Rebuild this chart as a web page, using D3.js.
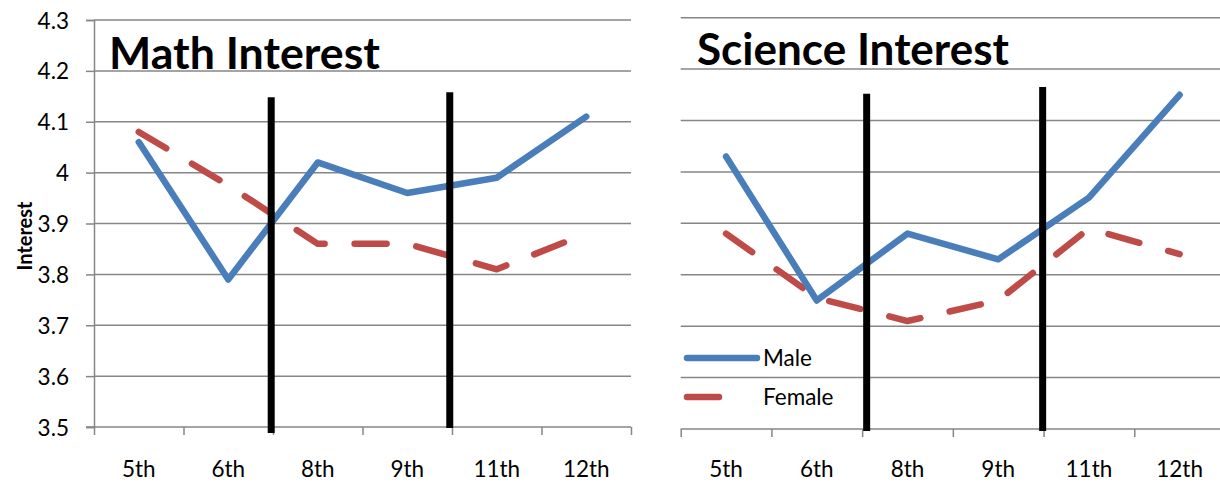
<!DOCTYPE html>
<html>
<head>
<meta charset="utf-8">
<script src="https://cdn.jsdelivr.net/npm/d3@7"></script>
<style>
body{margin:0;background:#fff}
svg{display:block}
text{font-family:Lato,"Open Sans",sans-serif}
</style>
</head>
<body>
<svg id="c" width="1220" height="483"></svg>
<script>
// ---- data ----
const categories = ["5th", "6th", "8th", "9th", "11th", "12th"];
const mathMale   = [4.06, 3.79, 4.02, 3.96, 3.99, 4.11];
const mathFemale = [4.08, 3.975, 3.86, 3.86, 3.81, 3.88];
const sciMale    = [4.03, 3.75, 3.88, 3.83, 3.95, 4.15];
const sciFemale  = [3.88, 3.755, 3.71, 3.75, 3.89, 3.84];
const yTicks      = [3.5, 3.6, 3.7, 3.8, 3.9, 4.0, 4.1, 4.2, 4.3];
const yTickLabels = ["3.5", "3.6", "3.7", "3.8", "3.9", "4", "4.1", "4.2", "4.3"];
// divider lines: position in category units (0..6), value range
const mathDividerPos  = [1.98, 3.975];
const mathDividerFrom = [3.488, 3.498];
const mathDividerTo   = [4.148, 4.158];
const sciDividerPos   = [2.05, 3.99];
const sciDividerFrom  = [3.496, 3.496];
const sciDividerTo    = [4.152, 4.165];
const seriesNames = ["Male", "Female"];
const titles = ["Math Interest", "Science Interest"];
const yAxisTitle = "Interest";

// ---- styles ----
const BLUE = "#4A7EBB", RED = "#BE4B48", GRID = "#868686";
const FS = 22.5;
const svg = d3.select("#c");

function panel(o) {
  const g = svg.append("g");
  const x = d3.scaleBand().domain(categories).range([o.x0, o.x1]).padding(0);
  const xi = d3.scaleLinear().domain([0, categories.length]).range([o.x0, o.x1]);
  const y = d3.scaleLinear().domain([3.5, 4.3]).range([o.yB, o.yT]);

  // gridlines
  g.append("g").selectAll("line").data(yTicks.filter(d => d > 3.5)).join("line")
    .attr("x1", o.x0).attr("x2", o.gridEnd)
    .attr("y1", d => y(d)).attr("y2", d => y(d))
    .attr("stroke", GRID).attr("stroke-width", 1.5);

  // y axis (left chart only)
  if (o.yAxis) {
    const ya = g.append("g").attr("transform", `translate(${o.x0},0)`)
      .call(d3.axisLeft(y).tickValues(yTicks).tickSize(8).tickPadding(17)
        .tickFormat((d, i) => yTickLabels[i]));
    ya.select(".domain").attr("stroke", GRID).attr("stroke-width", 1.5);
    ya.selectAll(".tick line").attr("stroke", GRID).attr("stroke-width", 1.5);
    ya.selectAll(".tick text").attr("font-size", FS).attr("fill", "#000")
      .attr("font-family", "Lato").attr("dy", "0.36em");
    g.append("text").text(yAxisTitle)
      .attr("transform", `translate(${o.yTitleX},${o.yTitleY}) rotate(-90)`)
      .attr("text-anchor", "middle").attr("font-weight", "bold").attr("font-size", 20);
  }

  // x axis: boundary ticks
  const xa = g.append("g").attr("transform", `translate(0,${o.yB})`)
    .call(d3.axisBottom(xi).tickValues(d3.range(categories.length + 1)).tickSize(8).tickFormat(""));
  xa.select(".domain").attr("stroke", GRID).attr("stroke-width", 1.5).attr("d", `M${o.x0 - (o.yAxis ? 8 : 0)},0H${o.gridEnd}`);
  xa.selectAll(".tick line").attr("stroke", GRID).attr("stroke-width", 1.5);
  // labels
  g.append("g").selectAll("text").data(categories).join("text")
    .attr("x", d => x(d) + x.bandwidth() / 2).attr("y", o.labelY)
    .attr("text-anchor", "middle").attr("font-size", FS).text(d => d);

  // series
  const line = d3.line().x((d, i) => x(categories[i]) + x.bandwidth() / 2).y(d => y(d));
  g.append("path").datum(o.female).attr("d", line).attr("fill", "none")
    .attr("stroke", RED).attr("stroke-width", 6.5).attr("stroke-linecap", "round")
    .attr("stroke-linejoin", "round").attr("stroke-dasharray", "32,30");
  g.append("path").datum(o.male).attr("d", line).attr("fill", "none")
    .attr("stroke", BLUE).attr("stroke-width", 6.5).attr("stroke-linecap", "round")
    .attr("stroke-linejoin", "round");

  // dividers
  g.append("g").selectAll("line").data(o.divPos).join("line")
    .attr("x1", d => xi(d)).attr("x2", d => xi(d))
    .attr("y1", (d, i) => y(o.divFrom[i])).attr("y2", (d, i) => y(o.divTo[i]))
    .attr("stroke", "#000").attr("stroke-width", 7);

  // title
  const t = g.append("text").text(o.title).attr("x", o.titleX).attr("y", o.titleY)
    .attr("font-weight", "bold").attr("font-size", 40);
  const w = t.node().getComputedTextLength();
  t.attr("font-size", 40 * o.titleW / w);

  // legend
  if (o.legend) {
    const lg = g.append("g");
    lg.append("line").attr("x1", 687).attr("x2", 757).attr("y1", 358).attr("y2", 358)
      .attr("stroke", BLUE).attr("stroke-width", 6.5).attr("stroke-linecap", "round");
    lg.append("line").attr("x1", 687).attr("x2", 757).attr("y1", 397).attr("y2", 397)
      .attr("stroke", RED).attr("stroke-width", 6.5).attr("stroke-linecap", "round")
      .attr("stroke-dasharray", "32,60");
    lg.selectAll("text").data(seriesNames).join("text")
      .attr("x", 763).attr("y", (d, i) => 358 + i * 39).attr("dy", "0.36em")
      .attr("font-size", FS).text(d => d);
  }
}

panel({x0: 94, x1: 631, gridEnd: 631, yT: 20, yB: 427, yAxis: true, yTitleX: 32, yTitleY: 236,
  labelY: 477, male: mathMale, female: mathFemale,
  divPos: mathDividerPos, divFrom: mathDividerFrom, divTo: mathDividerTo,
  title: titles[0], titleX: 109, titleY: 69, titleW: 271, legend: false});
panel({x0: 680.7, x1: 1225, gridEnd: 1225, yT: 17.7, yB: 429, yAxis: false,
  labelY: 477, male: sciMale, female: sciFemale,
  divPos: sciDividerPos, divFrom: sciDividerFrom, divTo: sciDividerTo,
  title: titles[1], titleX: 697, titleY: 65, titleW: 312, legend: true});
</script>
</body>
</html>
